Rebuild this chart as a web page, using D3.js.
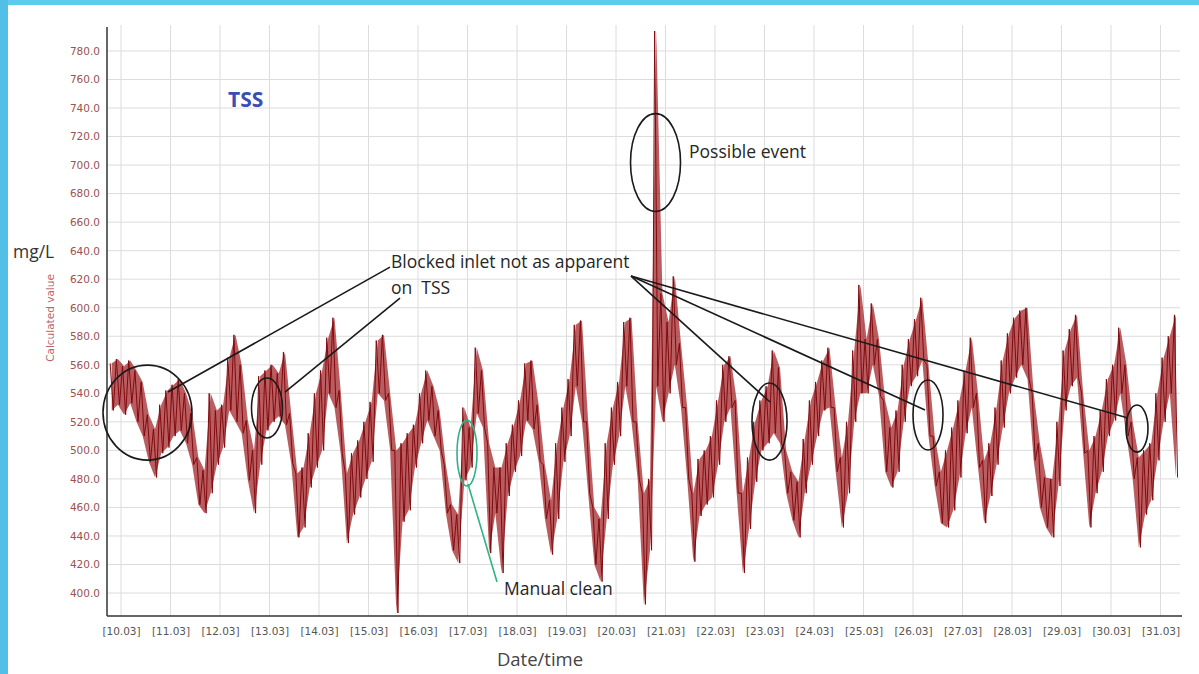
<!DOCTYPE html>
<html>
<head>
<meta charset="utf-8">
<script src="https://cdn.jsdelivr.net/npm/d3@7"></script>
<style>
  body { margin: 0; background: #fff; overflow: hidden; }
  svg { display: block; }
</style>
</head>
<body>
<script>
const width = 1199
const height = 674

// TSS readings, 3-hourly min / max, first bin starts 09.03 18:00
const binStart = Date.UTC(2019, 2, 9, 18)
const binHours = 3
const tssLow = [
  528,532,525,533,520,510,492,481,498,502,
  510,514,505,490,462,456,470,490,502,528,
  520,512,479,456,490,514,520,524,518,491,
  439,446,474,488,500,540,530,498,435,455,
  467,480,492,540,535,500,386,450,458,488,
  505,521,510,500,456,430,421,479,488,526,
  516,428,456,414,468,485,496,521,515,492,
  452,427,452,492,510,545,520,470,420,408,
  452,490,510,545,520,480,392,430,545,520,
  540,560,530,480,422,454,462,467,490,520,
  530,470,414,445,478,500,505,512,505,470,
  451,439,470,490,510,528,530,485,446,470,
  520,540,540,560,538,485,474,485,520,545,
  552,563,510,475,449,446,458,481,512,530,
  488,449,468,490,516,540,551,560,550,493,
  460,446,439,475,528,545,551,498,446,470,
  485,510,521,540,510,480,432,455,465,493,
  520,540,481
]
const tssHigh = [
  561,564,559,563,556,548,525,515,532,542,
  546,550,540,526,495,486,540,528,532,565,
  581,560,521,500,552,556,560,554,569,526,
  484,488,512,540,556,579,593,542,484,498,
  507,520,534,577,581,540,500,505,512,518,
  540,556,545,528,490,462,455,530,516,572,
  556,505,488,488,505,518,535,561,563,532,
  490,465,505,530,550,588,591,520,460,452,
  505,530,548,590,593,520,470,480,794,610,
  590,622,575,530,470,494,500,510,535,560,
  566,535,470,495,520,535,545,570,558,500,
  485,478,508,535,548,563,572,530,495,520,
  570,616,578,603,578,535,516,528,560,578,
  592,607,560,510,485,500,516,535,556,579,
  540,493,505,530,563,582,593,598,600,540,
  505,481,480,520,570,585,595,540,500,510,
  528,550,560,586,560,520,495,500,505,540,
  565,580,595
]

const yTicks = [400,420,440,460,480,500,520,540,560,580,600,620,640,660,680,700,720,740,760,780]
const marchDays = [10,11,12,13,14,15,16,17,18,19,20,21,22,23,24,25,26,27,28,29,30,31]

// annotations, in [day of March, mg/L]
const blackEllipses = [
  { c: [10.535, 526.5], r: [0.899, 33.3] },
  { c: [12.949, 529.7], r: [0.313, 21.0] },
  { c: [20.798, 701.8], r: [0.505, 34.3] },
  { c: [23.101, 520.2], r: [0.354, 27.0] },
  { c: [26.303, 524.8], r: [0.303, 24.5] },
  { c: [30.525, 515.3], r: [0.222, 16.5] }
]
const greenEllipse = { c: [16.990, 498.1], r: [0.202, 23.1] }
const pointerLines = [
  [[15.434, 628.5], [10.949, 540.9]],
  [[15.636, 606.8], [13.313, 540.9]],
  [[20.303, 622.2], [23.111, 533.9]],
  [[20.303, 622.2], [26.242, 528.3]],
  [[20.303, 622.2], [30.343, 522.7]]
]
const greenLine = [[17.010, 476.4], [17.596, 407.7]]

const plot = { left: 107, right: 1182, top: 25, bottom: 616 }

const svg = d3.select("body").append("svg")
    .attr("width", width)
    .attr("height", height);

// blue slide frame
svg.append("rect").attr("x", 0).attr("y", 0).attr("width", width).attr("height", 5).attr("fill", "#5ccbec");
svg.append("rect").attr("x", 0).attr("y", 0).attr("width", 8).attr("height", height).attr("fill", "#52bfe6");

const march = d => new Date(Date.UTC(2019, 2, 0) + d * 864e5);

const x = d3.scaleUtc()
    .domain([march(9.717), march(31.434)])
    .range([plot.left, plot.right]);

const y = d3.scaleLinear()
    .domain([383.9, 798.2])
    .range([plot.bottom, plot.top]);

const px = p => [x(march(p[0])), y(p[1])];

// grid
svg.append("g").selectAll("line")
    .data(yTicks)
    .enter().append("line")
    .attr("x1", plot.left).attr("x2", 1180)
    .attr("y1", d => y(d)).attr("y2", d => y(d))
    .attr("stroke", "#dcdcdc").attr("stroke-width", 1);

svg.append("g").selectAll("line")
    .data(marchDays)
    .enter().append("line")
    .attr("x1", d => x(march(d))).attr("x2", d => x(march(d)))
    .attr("y1", plot.top).attr("y2", plot.bottom)
    .attr("stroke", "#dcdcdc").attr("stroke-width", 1);

// series
const binTime = (i, frac) => new Date(binStart + (i + frac) * binHours * 36e5);

const band = d3.area()
    .x((d, i) => x(binTime(i, 0.5)))
    .y0(d => y(d[0]))
    .y1(d => y(d[1]));

const bins = tssLow.map((lo, i) => [lo, tssHigh[i]]);

svg.append("path")
    .datum(bins)
    .attr("d", band)
    .attr("fill", "#9c181c")
    .attr("opacity", 0.7);

const pts = [];
bins.forEach((b, i) => {
    pts.push([binTime(i, 0.25), b[1]]);
    pts.push([binTime(i, 0.75), b[0]]);
});

svg.append("path")
    .datum(pts)
    .attr("d", d3.line().x(d => x(d[0])).y(d => y(d[1])))
    .attr("fill", "none")
    .attr("stroke", "#800a0e")
    .attr("stroke-width", 1)
    .attr("stroke-linejoin", "round");

// axes
const yAxis = svg.append("g")
    .attr("transform", `translate(${plot.left},0)`)
    .call(d3.axisLeft(y).tickValues(yTicks).tickFormat(d3.format(".1f")).tickSize(0).tickPadding(7));
yAxis.select(".domain").remove();
yAxis.selectAll("text")
    .attr("fill", "#9a5252")
    .style("font", "10.5px 'DejaVu Sans'");

const xAxis = svg.append("g")
    .attr("transform", `translate(0,${plot.bottom})`)
    .call(d3.axisBottom(x).tickValues(marchDays.map(march)).tickFormat(d3.utcFormat("[%d.%m]")).tickSize(0).tickPadding(12));
xAxis.select(".domain").remove();
xAxis.selectAll("text")
    .attr("fill", "#555")
    .style("font", "10.5px 'DejaVu Sans'");

svg.append("line")
    .attr("x1", plot.left).attr("x2", plot.left)
    .attr("y1", 27).attr("y2", plot.bottom)
    .attr("stroke", "#333").attr("stroke-width", 1.5);
svg.append("line")
    .attr("x1", plot.left).attr("x2", plot.right)
    .attr("y1", plot.bottom).attr("y2", plot.bottom)
    .attr("stroke", "#333").attr("stroke-width", 1.5);

// axis titles
svg.append("text")
    .attr("transform", "translate(54,318) rotate(-90)")
    .attr("text-anchor", "middle")
    .attr("fill", "#b36a6a")
    .style("font", "10.5px 'DejaVu Sans'")
    .text("Calculated value");

svg.append("text")
    .attr("x", 13).attr("y", 258)
    .attr("fill", "#333")
    .style("font", "17.5px 'Open Sans'")
    .text("mg/L");

svg.append("text")
    .attr("x", 540).attr("y", 666)
    .attr("text-anchor", "middle")
    .attr("fill", "#444")
    .style("font", "18.5px 'Open Sans'")
    .text("Date/time");

svg.append("text")
    .attr("x", 228).attr("y", 107)
    .attr("fill", "#3b4db3")
    .style("font", "bold 21px 'Open Sans'")
    .text("TSS");

// annotations
const ann = svg.append("g").attr("fill", "none").attr("stroke-width", 1.6);

ann.selectAll("ellipse.blk")
    .data(blackEllipses)
    .enter().append("ellipse")
    .attr("cx", d => px(d.c)[0])
    .attr("cy", d => px(d.c)[1])
    .attr("rx", d => x(march(d.c[0] + d.r[0])) - x(march(d.c[0])))
    .attr("ry", d => y(d.c[1] - d.r[1]) - y(d.c[1]))
    .attr("stroke", "#1a1a1a");

ann.append("ellipse")
    .attr("cx", px(greenEllipse.c)[0])
    .attr("cy", px(greenEllipse.c)[1])
    .attr("rx", x(march(greenEllipse.c[0] + greenEllipse.r[0])) - x(march(greenEllipse.c[0])))
    .attr("ry", y(greenEllipse.c[1] - greenEllipse.r[1]) - y(greenEllipse.c[1]))
    .attr("stroke", "#2fb383");

ann.selectAll("line.ptr")
    .data(pointerLines)
    .enter().append("line")
    .attr("x1", d => px(d[0])[0]).attr("y1", d => px(d[0])[1])
    .attr("x2", d => px(d[1])[0]).attr("y2", d => px(d[1])[1])
    .attr("stroke", "#1a1a1a");

ann.append("line")
    .attr("x1", px(greenLine[0])[0]).attr("y1", px(greenLine[0])[1])
    .attr("x2", px(greenLine[1])[0]).attr("y2", px(greenLine[1])[1])
    .attr("stroke", "#2fb383");

const note = (tx, ty, s) => svg.append("text")
    .attr("x", tx).attr("y", ty)
    .attr("fill", "#262626")
    .style("font", "17.5px 'Open Sans'")
    .style("white-space", "pre")
    .text(s);

note(391, 268, "Blocked inlet not as apparent");
note(391, 294, "on  TSS");
note(689, 158, "Possible event");
note(504, 595, "Manual clean");
</script>
</body>
</html>
